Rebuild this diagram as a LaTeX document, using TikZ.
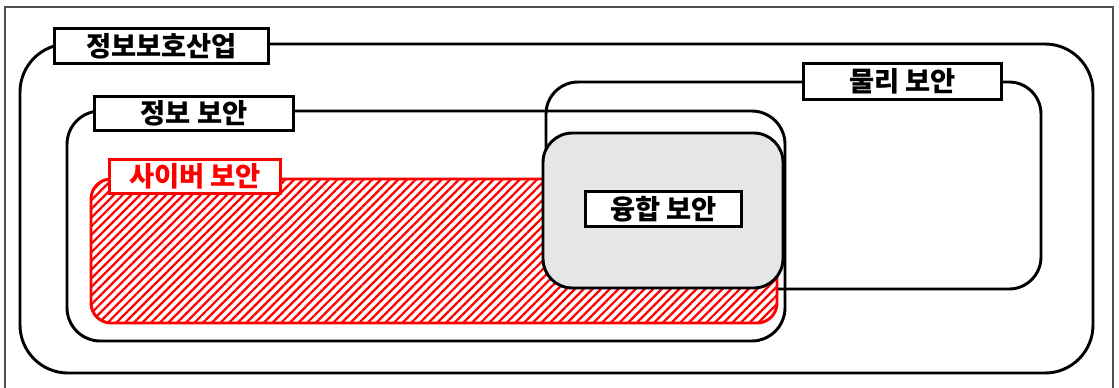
\documentclass[tikz,border=0pt]{standalone}
\usepackage{fontspec}
\newfontfamily\kr{Noto Sans CJK KR}
\usetikzlibrary{patterns.meta}
\definecolor{fusegray}{RGB}{230,230,230}
\definecolor{framegray}{RGB}{80,80,80}
\begin{document}
\begin{tikzpicture}[x=0.75pt,y=-0.75pt,
  region/.style={draw=black, line width=2.2pt},
  tag/.style={draw=black, fill=white, line width=2.2pt, inner sep=0pt,
    font=\kr\bfseries\fontsize{20.5}{22}\selectfont, anchor=center},
  redtag/.style={tag, draw=red, text=red}
]
\useasboundingbox (0,0) rectangle (1119,387);
% thin frame
\draw[line width=0.8pt, draw=framegray] (5,400) -- (5,7) -- (1113,7) -- (1113,400);
% 정보보호산업 region
\draw[region, rounded corners=36pt] (20,44) rectangle (1093,373);
% 정보 보안 region
\draw[region, rounded corners=25pt] (67,111) rectangle (785,341);
% 물리 보안 region
\draw[region, rounded corners=24pt] (546,82) rectangle (1041,289);
% 사이버 보안 region (hatched)
\fill[white, rounded corners=15pt] (91,179) rectangle (777,323);
\fill[pattern={Lines[angle=45,distance=4.6pt,line width=1.7pt]}, pattern color=red, rounded corners=15pt] (91,179) rectangle (777,323);
\draw[draw=red, line width=2.2pt, rounded corners=15pt] (91,179) rectangle (777,323);
% 융합 보안 region
\draw[region, fill=fusegray, rounded corners=22pt] (543,133) rectangle (783,288);
% labels
\node[tag, minimum width=161pt, minimum height=26.5pt] (industry) at (161.5,46) {정보보호산업};
\node[tag, minimum width=149pt, minimum height=25.5pt] (infosec) at (194,113.5) {정보 보안};
\node[redtag, minimum width=128pt, minimum height=25.5pt] (cyber) at (195,176.5) {사이버 보안};
\node[tag, minimum width=148.5pt, minimum height=27pt] (physical) at (902.5,81.5) {물리 보안};
\node[tag, minimum width=117pt, minimum height=26.5pt] (fusion) at (663.5,209) {융합 보안};
\end{tikzpicture}
\end{document}
